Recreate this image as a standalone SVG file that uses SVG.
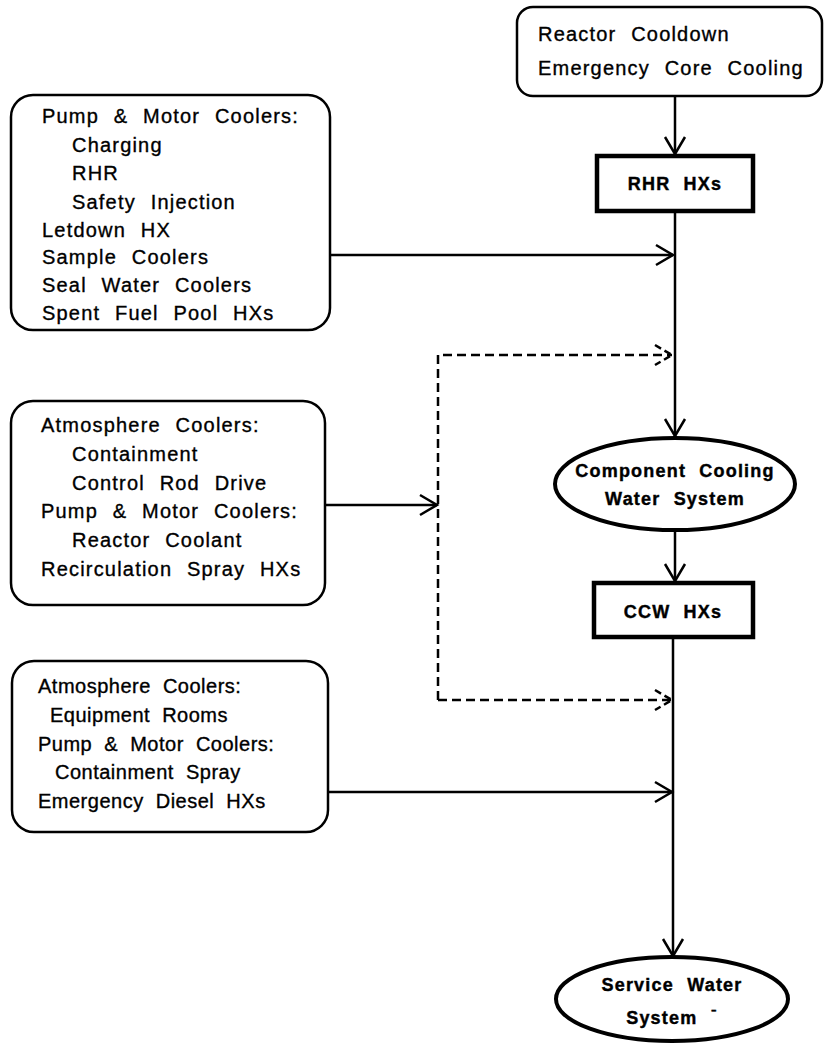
<svg xmlns="http://www.w3.org/2000/svg" width="824" height="1046" viewBox="0 0 824 1046">
<defs>
<style>
.box{fill:#fff;stroke:#000;stroke-width:2.5}
.hx{fill:#fff;stroke:#000;stroke-width:4.5}
.ell{fill:#fff;stroke:#000;stroke-width:4}
.t{font-family:"Liberation Sans",Arial,sans-serif;font-size:20px;letter-spacing:1.2px;word-spacing:8px;fill:#000;stroke:#000;stroke-width:0.35}
.t3{font-family:"Liberation Sans",Arial,sans-serif;font-size:20px;letter-spacing:0.5px;word-spacing:6px;fill:#000;stroke:#000;stroke-width:0.35}
.b{font-family:"Liberation Sans",Arial,sans-serif;font-size:18px;font-weight:bold;letter-spacing:1.2px;word-spacing:7px;fill:#000;text-anchor:middle;stroke:#000;stroke-width:0.4}
.c{fill:none;stroke:#000;stroke-width:2.5}
.d{fill:none;stroke:#000;stroke-width:2.5;stroke-dasharray:9 5}
</style>
<marker id="ah" markerUnits="userSpaceOnUse" markerWidth="24" markerHeight="24" viewBox="-20 -12 24 24" refX="0" refY="0" orient="auto">
<path d="M-17,-10 L0,0 L-17,10" fill="none" stroke="#000" stroke-width="2.5"/>
</marker>
<marker id="ahd" markerUnits="userSpaceOnUse" markerWidth="24" markerHeight="24" viewBox="-20 -12 24 24" refX="0" refY="0" orient="auto">
<path d="M-17,-10 L0,0 L-17,10" fill="none" stroke="#000" stroke-width="2.5" stroke-dasharray="7 4"/>
</marker>
</defs>
<rect width="824" height="1046" fill="#fff"/>

<g id="connectors">
<line class="c" x1="675" y1="96" x2="675" y2="154" marker-end="url(#ah)"/>
<line class="c" x1="675" y1="211" x2="675" y2="436" marker-end="url(#ah)"/>
<line class="c" x1="330" y1="255" x2="673" y2="255" marker-end="url(#ah)"/>
<path class="d" d="M438,700 L438,355 L672,355" marker-end="url(#ahd)"/>
<line class="d" x1="438" y1="700" x2="672" y2="700" marker-end="url(#ahd)"/>
<line class="c" x1="325" y1="505" x2="437" y2="505" marker-end="url(#ah)"/>
<line class="c" x1="675" y1="530" x2="675" y2="581" marker-end="url(#ah)"/>
<line class="c" x1="673" y1="637" x2="673" y2="956" marker-end="url(#ah)"/>
<line class="c" x1="328" y1="792" x2="672" y2="792" marker-end="url(#ah)"/>
</g>

<g id="reactor-cooldown">
<rect class="box" x="517" y="7" width="305" height="89" rx="16"/>
<text class="t" x="538" y="41">Reactor Cooldown</text>
<text class="t" x="538" y="75">Emergency Core Cooling</text>
</g>

<g id="rhr-hxs">
<rect class="hx" x="597" y="156" width="156" height="55"/>
<text class="b" x="675" y="190">RHR HXs</text>
</g>

<g id="group1">
<rect class="box" x="11" y="95" width="319" height="235" rx="22"/>
<text class="t" x="42" y="123">Pump &amp; Motor Coolers:</text>
<text class="t" x="72" y="152">Charging</text>
<text class="t" x="72" y="180">RHR</text>
<text class="t" x="72" y="209">Safety Injection</text>
<text class="t" x="42" y="237">Letdown HX</text>
<text class="t" x="42" y="264">Sample Coolers</text>
<text class="t" x="42" y="292">Seal Water Coolers</text>
<text class="t" x="42" y="320">Spent Fuel Pool HXs</text>
</g>

<g id="group2">
<rect class="box" x="11" y="401" width="314" height="204" rx="22"/>
<text class="t" x="41" y="432">Atmosphere Coolers:</text>
<text class="t" x="72" y="461">Containment</text>
<text class="t" x="72" y="490">Control Rod Drive</text>
<text class="t" x="41" y="518">Pump &amp; Motor Coolers:</text>
<text class="t" x="72" y="547">Reactor Coolant</text>
<text class="t" x="41" y="576">Recirculation Spray HXs</text>
</g>

<g id="ccws">
<ellipse class="ell" cx="675" cy="484" rx="120" ry="46"/>
<text class="b" x="675" y="477">Component Cooling</text>
<text class="b" x="675" y="505">Water System</text>
</g>

<g id="ccw-hxs">
<rect class="hx" x="594" y="583" width="159" height="54"/>
<text class="b" x="673" y="618">CCW HXs</text>
</g>

<g id="group3">
<rect class="box" x="12" y="661" width="316" height="171" rx="22"/>
<text class="t3" x="38" y="693">Atmosphere Coolers:</text>
<text class="t3" x="50" y="722">Equipment Rooms</text>
<text class="t3" x="38" y="751">Pump &amp; Motor Coolers:</text>
<text class="t3" x="55" y="779">Containment Spray</text>
<text class="t3" x="38" y="808">Emergency Diesel HXs</text>
</g>

<g id="service-water">
<ellipse class="ell" cx="672" cy="999" rx="116" ry="42"/>
<text class="b" x="672" y="991">Service Water</text>
<text class="b" x="672" y="1024">System <tspan font-weight="normal" dy="-8">-</tspan></text>
</g>
</svg>
